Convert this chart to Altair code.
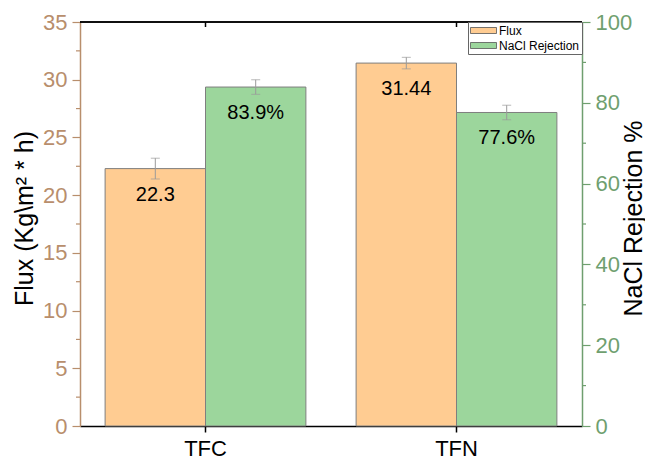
import altair as alt
import pandas as pd

# Membrane performance: water flux and NaCl rejection
categories = ["TFC", "TFN"]
series_names = ["Flux", "NaCl Rejection"]
flux = [22.3, 31.44]
flux_err = [0.9, 0.5]
flux_labels = ["22.3", "31.44"]
rejection = [83.9, 77.6]
rejection_err = [1.8, 1.8]
rejection_labels = ["83.9%", "77.6%"]

flux_ticks = [0, 5, 10, 15, 20, 25, 30, 35]
flux_minor = [2.5, 7.5, 12.5, 17.5, 22.5, 27.5, 32.5]
rej_ticks = [0, 20, 40, 60, 80, 100]
rej_minor = [10, 30, 50, 70, 90]

ORANGE = "#FFCC92"
GREEN = "#9CD69C"
TAN = "#B88E6C"
SAGE = "#6F9F6F"
FONT = "Liberation Sans"
W, H = 502, 404

flux_df = pd.DataFrame({
    "cat": categories, "series": "Flux", "value": flux,
    "lo": [v - e for v, e in zip(flux, flux_err)],
    "hi": [v + e for v, e in zip(flux, flux_err)],
    "label": flux_labels,
})
rej_df = pd.DataFrame({
    "cat": categories, "series": "NaCl Rejection", "value": rejection,
    "lo": [v - e for v, e in zip(rejection, rejection_err)],
    "hi": [v + e for v, e in zip(rejection, rejection_err)],
    "label": rejection_labels,
})

x_scale = alt.Scale(domain=categories, paddingInner=0.2, paddingOuter=0.1)
x_axis = alt.Axis(title=None, labelFontSize=22, labelColor="black", labelFont=FONT,
                  domainColor="black", domainWidth=1.5, tickColor="black",
                  tickSize=6, tickWidth=1.5, labelPadding=6, labelAngle=0)
x_enc = alt.X("cat:N", scale=x_scale, axis=x_axis)
xo_enc = alt.XOffset("series:N", scale=alt.Scale(domain=series_names, paddingInner=0, paddingOuter=0))
color_enc = alt.Color(
    "series:N",
    scale=alt.Scale(domain=series_names, range=[ORANGE, GREEN]),
    legend=alt.Legend(
        title=None, orient="top-right", offset=0, padding=2, rowPadding=2,
        strokeColor="#666666", fillColor="white",
        symbolType="M-2.17,-0.5L2.17,-0.5L2.17,0.5L-2.17,0.5Z", symbolSize=144,
        symbolOffset=7, symbolStrokeColor="#555555", symbolStrokeWidth=0.8, symbolOpacity=1,
        labelFontSize=12, labelFont=FONT, labelColor="black", labelOffset=9,
    ),
)


def y_scale(top):
    return alt.Scale(domain=[0, top], nice=False, zero=True)


def build_side(df, top, ticks, minor, color, title, orient, minor_x, title_x):
    y_axis = alt.Axis(
        orient=orient, values=ticks, title=title, grid=False,
        labelFontSize=22, labelColor=color, labelFont=FONT, labelPadding=5,
        domainColor=color, domainWidth=1.5, tickColor=color, tickSize=8, tickWidth=1.2,
        titleFontSize=25, titleFont=FONT, titleColor="black", titleFontWeight="normal",
        titleAngle=270, titleAlign="center", titleBaseline="middle",
        titleX=title_x, titleY=196,
    )
    base = alt.Chart(df)
    y_scl = y_scale(top)
    bars = base.mark_bar(stroke="#7f7f7f", strokeWidth=1).encode(
        x=x_enc, xOffset=xo_enc,
        y=alt.Y("value:Q", scale=y_scl, axis=y_axis),
        fill=color_enc,
    )
    err = base.mark_rule(color="#9a9a9a", strokeWidth=1).encode(
        x=x_enc, xOffset=xo_enc,
        y=alt.Y("lo:Q", scale=y_scl), y2="hi:Q",
    )
    caps_lo = base.mark_tick(color="#9a9a9a", thickness=1, size=9).encode(
        x=x_enc, xOffset=xo_enc, y=alt.Y("lo:Q", scale=y_scl),
    )
    caps_hi = base.mark_tick(color="#9a9a9a", thickness=1, size=9).encode(
        x=x_enc, xOffset=xo_enc, y=alt.Y("hi:Q", scale=y_scl),
    )
    text = base.mark_text(fontSize=20, font=FONT, color="black", baseline="middle", dy=26).encode(
        x=x_enc, xOffset=xo_enc, y=alt.Y("value:Q", scale=y_scl),
        text="label:N",
    )
    # minor ticks between the labelled ones
    minor_ticks = alt.Chart(pd.DataFrame({"v": minor})).mark_rule(color=color, strokeWidth=1.2).encode(
        x=alt.value(minor_x[0]), x2=alt.value(minor_x[1]),
        y=alt.Y("v:Q", scale=y_scl),
    )
    return alt.layer(bars, err, caps_lo, caps_hi, text, minor_ticks)


left = build_side(flux_df, 35, flux_ticks, flux_minor, TAN, "Flux (Kg\\m² * h)", "left", (-4, 0), -56)
right = build_side(rej_df, 100, rej_ticks, rej_minor, SAGE, "NaCl Rejection %", "right", (W, W + 4), 51)

# top frame with inward ticks at the category centres
frame_df = pd.DataFrame({"cat": categories})
top_line = alt.Chart(frame_df).mark_rule(color="black", strokeWidth=1.5).encode(
    x=alt.value(0), x2=alt.value(W), y=alt.value(0),
)
top_ticks = alt.Chart(frame_df).mark_rule(color="black", strokeWidth=1.5).encode(
    x=x_enc, y=alt.value(0), y2=alt.value(5),
)

chart = (
    alt.layer(left, right, top_line, top_ticks)
    .resolve_scale(y="independent")
    .properties(
        width=W, height=H,
        autosize=alt.AutoSizeParams(type="none"),
        padding={"left": 80, "top": 22, "right": 63, "bottom": 33},
        background="white",
    )
    .configure_view(stroke=None)
)

chart.save("out.html", embed_options={"renderer": "svg", "actions": False})
